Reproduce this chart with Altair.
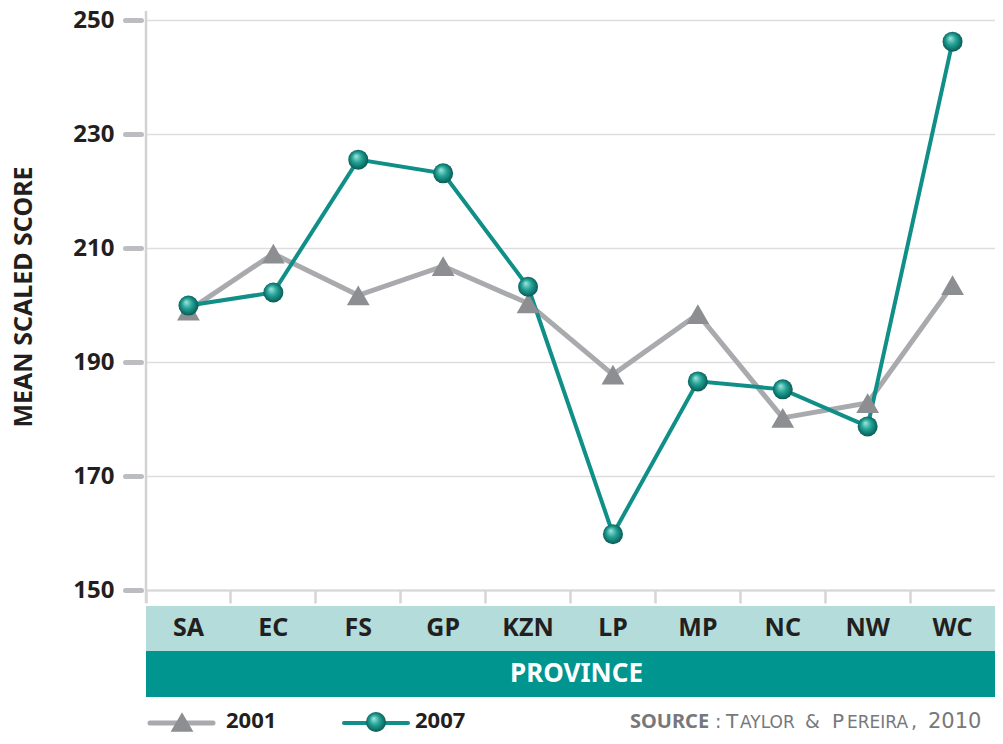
import altair as alt
import pandas as pd

provinces = ["SA", "EC", "FS", "GP", "KZN", "LP", "MP", "NC", "NW", "WC"]
score_2001 = [199.0, 209.0, 201.7, 206.8, 200.3, 187.8, 198.4, 180.2, 182.8, 203.5]
score_2007 = [199.9, 202.2, 225.5, 223.1, 203.2, 159.8, 186.6, 185.2, 178.7, 246.2]
y_ticks = [150, 170, 190, 210, 230, 250]

rows = []
for p, a, b in zip(provinces, score_2001, score_2007):
    rows.append({"province": p, "year": "2001", "score": a})
    rows.append({"province": p, "year": "2007", "score": b})
df = pd.DataFrame(rows)

FONT = "Noto Sans"
SRC_FONT = "DejaVu Sans"
W, H = 849, 570
TEAL = "#0f8f87"
GRAY_LINE = "#a9aaad"
GRAY_TRI = "#8d8e91"
DARK = "#231f20"

ball = {
    "gradient": "radial",
    "stops": [
        {"offset": 0, "color": "#a8e6dc"},
        {"offset": 0.45, "color": "#23a498"},
        {"offset": 1, "color": "#05504b"},
    ],
    "x1": 0.38, "y1": 0.32, "r1": 0.0,
    "x2": 0.5, "y2": 0.5, "r2": 0.55,
}

x_enc = alt.X(
    "province:N", sort=provinces,
    scale=alt.Scale(type="band", paddingInner=0, paddingOuter=0),
    axis=alt.Axis(
        title=None, bandPosition=0,
        domainColor="#d6d6d6", domainWidth=2,
        tickColor="#d6d6d6", tickWidth=2.5, tickSize=13,
        labelFont=FONT, labelFontSize=25, labelFontWeight="bold", labelColor=DARK,
        labelBaseline="middle", labelPadding=24, labelAngle=0, zindex=1,
    ),
)
y_enc = alt.Y(
    "score:Q",
    scale=alt.Scale(domain=[150, 250], nice=False, zero=False),
    axis=alt.Axis(
        title=None, values=y_ticks, offset=5, domain=False,
        tickColor="#bcbdc1", tickWidth=5, tickSize=16, tickCap="round",
        grid=True, gridColor="#dedede", gridWidth=1.5,
        labelFont=FONT, labelFontSize=24, labelFontWeight="bold", labelColor=DARK,
        labelPadding=11,
    ),
)

base = alt.Chart(df)
one = alt.Chart(pd.DataFrame({"k": [0]}))

band_light = one.mark_rect(color="#b4dcda").encode(
    x=alt.value(0), x2=alt.value(W), y=alt.value(H + 16), y2=alt.value(H + 61))
band_dark = one.mark_rect(color="#00958f").encode(
    x=alt.value(0), x2=alt.value(W), y=alt.value(H + 61), y2=alt.value(H + 107))
prov_title = one.mark_text(font=FONT, fontSize=26, fontWeight="bold", color="white",
                           align="center", baseline="middle").encode(
    x=alt.value(W / 2 + 6), y=alt.value(H + 84), text=alt.value("PROVINCE"))
y_title = one.mark_text(font=FONT, fontSize=25, fontWeight="bold", color=DARK,
                        align="center", baseline="middle", angle=270).encode(
    x=alt.value(-122), y=alt.value(277), text=alt.value("MEAN SCALED SCORE"))
y_line = one.mark_rule(color="#d2d2d2", strokeWidth=2.5).encode(
    x=alt.value(0), y=alt.value(-9), y2=alt.value(H + 13))

d01 = base.transform_filter(alt.datum.year == "2001")
d07 = base.transform_filter(alt.datum.year == "2007")

line01 = d01.mark_line(color=GRAY_LINE, strokeWidth=5).encode(x=x_enc, y=y_enc)
pts01 = d01.mark_point(shape="triangle-up", filled=True, fill=GRAY_TRI, size=520,
                       opacity=1, strokeWidth=0).encode(x=x_enc, y=y_enc)
line07 = d07.mark_line(color=TEAL, strokeWidth=4).encode(x=x_enc, y=y_enc)
pts07 = d07.mark_point(shape="circle", filled=True, fill=ball, size=400,
                       opacity=1, strokeWidth=0).encode(x=x_enc, y=y_enc)

# legend
LY = H + 131
leg_line01 = one.mark_rule(color=GRAY_LINE, strokeWidth=5, strokeCap="round").encode(
    x=alt.value(4), x2=alt.value(67), y=alt.value(LY + 2))
leg_tri = one.mark_point(shape="triangle-up", filled=True, fill=GRAY_TRI, size=520,
                         opacity=1, strokeWidth=0).encode(x=alt.value(36), y=alt.value(LY + 1))
leg_txt01 = one.mark_text(font=FONT, fontSize=22, fontWeight="bold", color=DARK,
                          align="left", baseline="middle").encode(
    x=alt.value(80), y=alt.value(LY), text=alt.value("2001"))
leg_line07 = one.mark_rule(color=TEAL, strokeWidth=4, strokeCap="round").encode(
    x=alt.value(198), x2=alt.value(262), y=alt.value(LY + 2))
leg_ball = one.mark_point(shape="circle", filled=True, fill=ball, size=400,
                          opacity=1, strokeWidth=0).encode(x=alt.value(230), y=alt.value(LY + 1))
leg_txt07 = one.mark_text(font=FONT, fontSize=22, fontWeight="bold", color=DARK,
                          align="left", baseline="middle").encode(
    x=alt.value(269), y=alt.value(LY), text=alt.value("2007"))

# source note (small caps rendered as pieces)
SX = -146
src_pieces = [
    ("SOURCE", 630, 20, "bold", FONT),
    (":", 715, 19, "normal", SRC_FONT),
    ("T", 726, 20, "normal", SRC_FONT),
    ("AYLOR", 740, 17, "normal", SRC_FONT),
    ("&", 805, 19, "normal", SRC_FONT),
    ("P", 832, 20, "normal", SRC_FONT),
    ("EREIRA", 847, 17, "normal", SRC_FONT),
    (",", 911, 19, "normal", SRC_FONT),
    ("2010", 928, 21, "normal", SRC_FONT),
]
src_layers = [
    one.mark_text(font=fnt, fontSize=fs, fontWeight=fw, color="#77787b",
                  align="left", baseline="alphabetic").encode(
        x=alt.value(px + SX), y=alt.value(LY + 7), text=alt.value(t))
    for t, px, fs, fw, fnt in src_pieces
]

chart = alt.layer(
    band_light, band_dark, prov_title, y_title,
    line01, line07, pts01, pts07, y_line,
    leg_line01, leg_tri, leg_txt01, leg_line07, leg_ball, leg_txt07,
    *src_layers,
).properties(
    width=W, height=H,
    autosize=alt.AutoSizeParams(type="none"),
    padding={"left": 138, "top": 12, "right": 0, "bottom": 146},
).configure_view(stroke=None)

chart.save("out.html", embed_options={"renderer": "svg", "actions": False})
